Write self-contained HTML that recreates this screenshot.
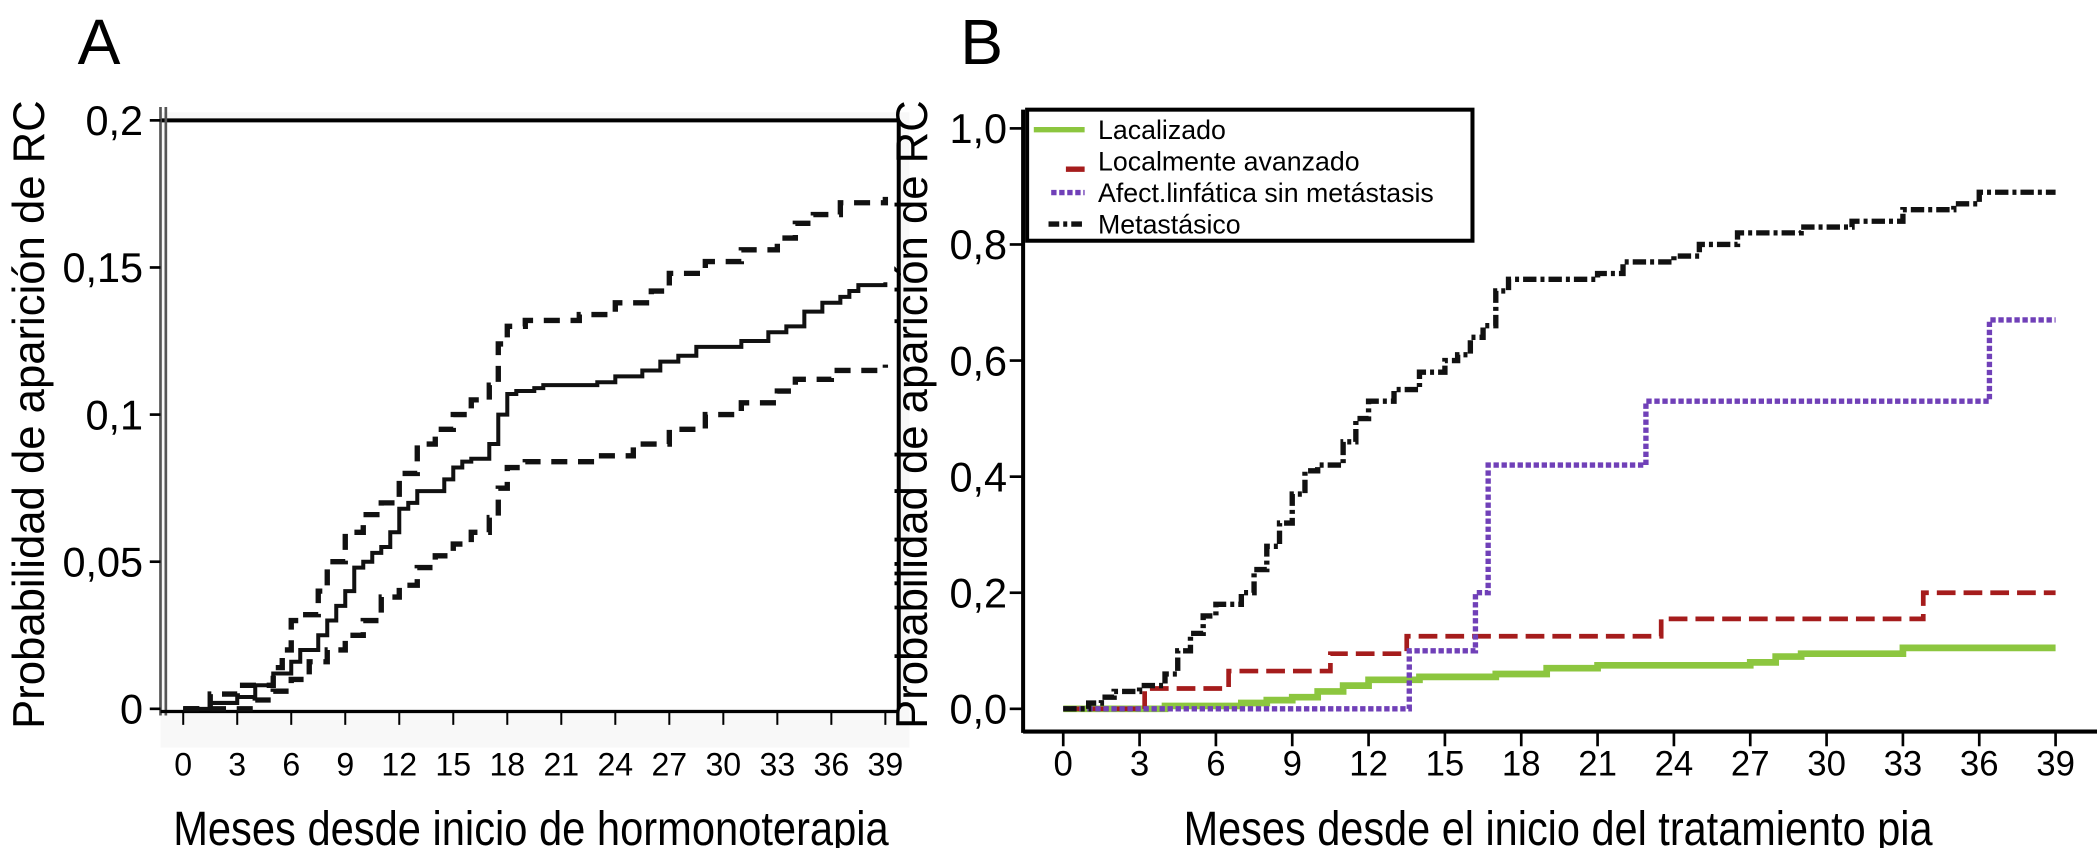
<!DOCTYPE html>
<html><head><meta charset="utf-8">
<style>
html,body{margin:0;padding:0;background:#fff;}
svg{display:block;font-family:"Liberation Sans Narrow","Liberation Sans",Arial,sans-serif;}
</style></head>
<body>
<svg id="chart" width="2097" height="848" viewBox="0 0 2097 848" xmlns="http://www.w3.org/2000/svg">
 <g transform="scale(1.3374)">
  <text x="58" y="48" font-size="48" font-family="Liberation Sans">A</text>
  <text x="718" y="48" font-size="48" font-family="Liberation Sans">B</text>
  <g id="ga"></g>
  <g id="gb"></g>
 </g>
</svg>
<script>
// ---------- Panel A data ----------
const aTicksX = [0,3,6,9,12,15,18,21,24,27,30,33,36,39];
const aTicksY = [0,0.05,0.1,0.15,0.2];
const aTickYLabels = ["0","0,05","0,1","0,15","0,2"];
const aMidX = [0,1.5,3,4,5,6,6.5,7.5,8,8.5,9,9.5,10,10.5,11,11.5,12,12.5,13,14.5,15,15.5,16,17,17.5,18,18.5,19.5,20,23,24,25.5,26.5,27.5,28.5,31,32.5,33.5,34.5,35.5,36.5,37,37.5,39];
const aMidY = [0,0.002,0.004,0.008,0.012,0.016,0.02,0.025,0.03,0.035,0.04,0.048,0.05,0.053,0.055,0.06,0.068,0.07,0.074,0.078,0.082,0.084,0.085,0.09,0.1,0.107,0.108,0.109,0.11,0.111,0.113,0.115,0.118,0.12,0.123,0.125,0.128,0.13,0.135,0.138,0.14,0.142,0.144,0.145];
const aUpX = [0,1.5,3,5,5.5,6,6.5,7.5,8,9,10,11,12,13,14,15,16,17,17.5,18,19,22,24,26,27,29,31,33,34,35,36.5,39];
const aUpY = [0,0.005,0.008,0.014,0.02,0.03,0.032,0.04,0.05,0.06,0.066,0.07,0.08,0.09,0.095,0.1,0.105,0.11,0.124,0.13,0.132,0.134,0.138,0.142,0.148,0.152,0.156,0.16,0.165,0.168,0.172,0.174];
const aLoX = [0,4,5,6,7,8,9,10,11,12,13,14,15,16,17,17.5,18,19,23,25,27,29,31,33,34,36,39];
const aLoY = [0,0.003,0.006,0.01,0.016,0.02,0.025,0.03,0.038,0.042,0.048,0.052,0.056,0.06,0.065,0.075,0.082,0.084,0.086,0.09,0.095,0.1,0.104,0.108,0.112,0.115,0.117];

// ---------- Panel B data ----------
const bTicksX = [0,3,6,9,12,15,18,21,24,27,30,33,36,39];
const bTicksY = [0,0.2,0.4,0.6,0.8,1.0];
const bTickYLabels = ["0,0","0,2","0,4","0,6","0,8","1,0"];
const metX = [0,1,1.5,2,3,4,4.5,5,5.5,6,7,7.5,8,8.5,9,9.5,10,11,11.5,12,13,14,15,15.5,16,16.5,17,17.5,21,22,24,25,26.5,29,31,33,35,36,39];
const metY = [0,0.01,0.02,0.03,0.04,0.06,0.1,0.13,0.16,0.18,0.2,0.24,0.28,0.32,0.37,0.41,0.42,0.46,0.5,0.53,0.55,0.58,0.6,0.61,0.64,0.66,0.72,0.74,0.75,0.77,0.78,0.8,0.82,0.83,0.84,0.86,0.87,0.89,0.89];
const afeX = [0,13.6,16.2,16.7,22.9,36.4,39];
const afeY = [0,0.1,0.2,0.42,0.53,0.67,0.67];
const locAX = [0,3.2,6.5,10.5,13.5,23.5,33.8,39];
const locAY = [0,0.035,0.065,0.095,0.125,0.155,0.2,0.2];
const locX = [0,4,7,8,9,10,11,12,14,17,19,21,27,28,29,33,39];
const locY = [0,0.005,0.01,0.015,0.02,0.03,0.04,0.05,0.055,0.06,0.07,0.075,0.08,0.09,0.095,0.105,0.105];
const legendLabels = ["Lacalizado","Localmente avanzado","Afect.linfática sin metástasis","Metastásico"];

const NS = "http://www.w3.org/2000/svg";
function mk(parent, tag, attrs){ const e=document.createElementNS(NS,tag); for(const k in attrs) e.setAttribute(k,attrs[k]); parent.appendChild(e); return e; }
function stepPath(xs, ys, sx, sy){
  let d = "M"+sx(xs[0])+","+sy(ys[0]);
  for(let i=1;i<xs.length;i++){ d += " H"+sx(xs[i])+" V"+sy(ys[i]); }
  return d;
}

// ---------- Panel A ----------
const ga = document.getElementById('ga');
const axA = v => 137 + v*(662-137)/39;
const ayA = v => 530 - v*2200;
let e;
e = mk(ga,'rect',{x:120,y:84,width:560,height:475,fill:'#f8f8f8'});
 
e = mk(ga,'rect',{x:124,y:90,width:548,height:440,fill:'#fff'});
 
e = mk(ga,'line',{x1:120,y1:90,x2:672,y2:90,stroke:'#000','stroke-width':3});
 
e = mk(ga,'line',{x1:120,y1:80,x2:120,y2:535,stroke:'#555','stroke-width':2});
 
e = mk(ga,'line',{x1:124,y1:80,x2:124,y2:535,stroke:'#555','stroke-width':2});
 
e = mk(ga,'line',{x1:672,y1:90,x2:672,y2:530,stroke:'#000','stroke-width':3});
 
e = mk(ga,'line',{x1:120,y1:532,x2:672,y2:532,stroke:'#000','stroke-width':2.5});
 
aTicksY.forEach((v,i)=>{
  const t = mk(ga,'line',{x1:112,y1:ayA(v),x2:120,y2:ayA(v),stroke:'#000','stroke-width':2});
   
  const l = mk(ga,'text',{x:107,y:ayA(v)+11,'font-size':31,'text-anchor':'end'});
  l.textContent = aTickYLabels[i];
   
});
aTicksX.forEach(v=>{
  const t = mk(ga,'line',{x1:axA(v),y1:532,x2:axA(v),y2:542,stroke:'#000','stroke-width':1.5});
   
  const l = mk(ga,'text',{x:axA(v),y:580,'font-size':24,'text-anchor':'middle'});
  l.textContent = v;
   
});
e = mk(ga,'path',{d:stepPath(aUpX,aUpY,axA,ayA),fill:'none',stroke:'#111','stroke-width':4,'stroke-dasharray':'12,8'});
 
e = mk(ga,'path',{d:stepPath(aLoX,aLoY,axA,ayA),fill:'none',stroke:'#111','stroke-width':4,'stroke-dasharray':'12,8'});
 
e = mk(ga,'path',{d:stepPath(aMidX,aMidY,axA,ayA),fill:'none',stroke:'#111','stroke-width':3});
 
e = mk(ga,'text',{x:0,y:0,'font-size':33,'text-anchor':'middle',textLength:470,lengthAdjust:'spacingAndGlyphs',transform:'translate(33,310) rotate(-90)'});
e.textContent = 'Probabilidad de aparición de RC';
 
e = mk(ga,'text',{x:397,y:632,'font-size':36,'text-anchor':'middle',textLength:535,lengthAdjust:'spacingAndGlyphs'});
e.textContent = 'Meses desde inicio de hormonoterapia';
 

// ---------- Panel B ----------
const gb = document.getElementById('gb');
const axB = v => 795 + v*(1537-795)/39;
const ayB = v => 530 - v*434;
e = mk(gb,'line',{x1:765,y1:82,x2:765,y2:548,stroke:'#000','stroke-width':3});
 
e = mk(gb,'line',{x1:765,y1:547,x2:1568,y2:547,stroke:'#000','stroke-width':3});
 
bTicksY.forEach((v,i)=>{
  const t = mk(gb,'line',{x1:755,y1:ayB(v),x2:765,y2:ayB(v),stroke:'#000','stroke-width':2});
   
  const l = mk(gb,'text',{x:753,y:ayB(v)+11,'font-size':31,'text-anchor':'end'});
  l.textContent = bTickYLabels[i];
   
});
bTicksX.forEach(v=>{
  const t = mk(gb,'line',{x1:axB(v),y1:547,x2:axB(v),y2:558,stroke:'#000','stroke-width':2});
   
  const l = mk(gb,'text',{x:axB(v),y:580,'font-size':26,'text-anchor':'middle'});
  l.textContent = v;
   
});
e = mk(gb,'path',{d:stepPath(locX,locY,axB,ayB),fill:'none',stroke:'#8cc63f','stroke-width':5});
 
e = mk(gb,'path',{d:stepPath(locAX,locAY,axB,ayB),fill:'none',stroke:'#a51c1c','stroke-width':3.5,'stroke-dasharray':'14,6'});
 
e = mk(gb,'path',{d:stepPath(afeX,afeY,axB,ayB),fill:'none',stroke:'#7040b8','stroke-width':4,'stroke-dasharray':'4,2'});
 
e = mk(gb,'path',{d:stepPath(metX,metY,axB,ayB),fill:'none',stroke:'#111','stroke-width':4,'stroke-dasharray':'10,3,3,3'});
 
// legend
e = mk(gb,'rect',{x:768,y:82,width:333,height:98,fill:'#fff',stroke:'#000','stroke-width':3});
 
const legColors = ['#8cc63f','#a51c1c','#7040b8','#111'];
const legDash = ['none','8,0','4,2','8,3,3,3'];
legendLabels.forEach((lab,i)=>{
  const y = 97 + i*23.5;
  const s = mk(gb,'line',{x1:i==0?773:i==1?797:i==2?786:784,y1:y+(i==1?6:0),x2:811,y2:y+(i==1?6:0),stroke:legColors[i],'stroke-width':4,'stroke-dasharray':legDash[i]});
   
  const t = mk(gb,'text',{x:821,y:y+7,'font-size':20});
  t.textContent = lab;
   
});
e = mk(gb,'text',{x:0,y:0,'font-size':33,'text-anchor':'middle',textLength:470,lengthAdjust:'spacingAndGlyphs',transform:'translate(693,310) rotate(-90)'});
e.textContent = 'Probabilidad de aparición de RC';
 
e = mk(gb,'text',{x:1165,y:632,'font-size':36,'text-anchor':'middle',textLength:560,lengthAdjust:'spacingAndGlyphs'});
e.textContent = 'Meses desde el inicio del tratamiento pia';
 
</script>
</body></html>
